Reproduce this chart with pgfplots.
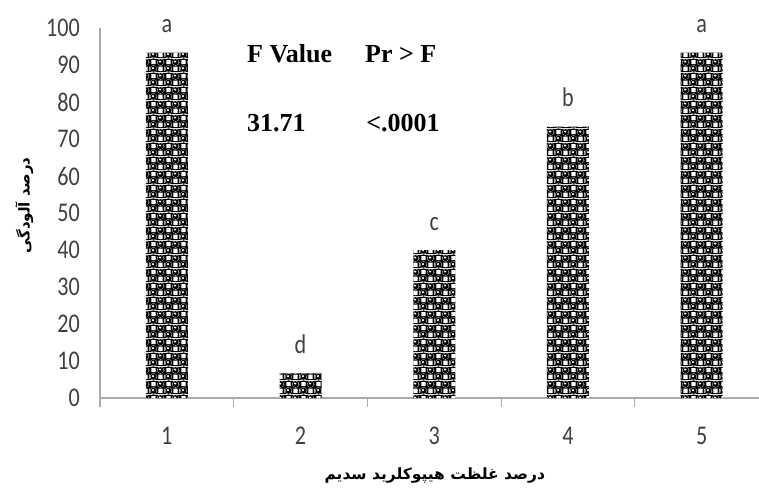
\documentclass[border=0pt]{standalone}
\usepackage{fontspec}
\usepackage{pgfplots}
\pgfplotsset{compat=1.18}
\usetikzlibrary{patterns}
\setmainfont{Liberation Serif}
\newfontfamily\tickfont[FakeStretch=0.82]{Carlito}
\newfontfamily\arabicfont[Script=Arabic]{DejaVu Sans}
\TeXXeTstate=1
\definecolor{axgray}{RGB}{170,170,170}
\newcommand\ballsat[1]{%
  \pgfpathcircle{\pgfqpoint{3.75pt}{3.5pt}}{#1}%
  \pgfpathcircle{\pgfqpoint{18.75pt}{3.5pt}}{#1}%
  \pgfpathcircle{\pgfqpoint{3.75pt}{17.5pt}}{#1}%
  \pgfpathcircle{\pgfqpoint{11.25pt}{10.5pt}}{#1}%
  \pgfpathcircle{\pgfqpoint{-3.75pt}{10.5pt}}{#1}%
  \pgfpathcircle{\pgfqpoint{11.25pt}{-3.5pt}}{#1}%
}
\pgfdeclarepatterninherentlycolored{balls}{\pgfpointorigin}{\pgfqpoint{15pt}{14pt}}{\pgfqpoint{15pt}{14pt}}{%
  \pgfsetfillcolor{black}%
  \pgfpathrectangle{\pgfpointorigin}{\pgfqpoint{15pt}{14pt}}%
  \pgfusepath{fill}%
  \pgfsetfillcolor{white}%
  \ballsat{3.7pt}%
  \pgfusepath{fill}%
  \pgfsetfillcolor{black}%
  \ballsat{3.3pt}%
  \pgfusepath{fill}%
  \pgfsetfillcolor{white}%
  \pgfpathrectangle{\pgfqpoint{9.0pt}{1.3pt}}{\pgfqpoint{4.5pt}{4.4pt}}%
  \pgfpathrectangle{\pgfqpoint{1.5pt}{8.3pt}}{\pgfqpoint{4.5pt}{4.4pt}}%
  \pgfpathcircle{\pgfqpoint{3.2pt}{4.2pt}}{1.3pt}%
  \pgfpathcircle{\pgfqpoint{10.7pt}{11.2pt}}{1.3pt}%
  \pgfusepath{fill}%
}
\begin{document}
\begin{tikzpicture}
\begin{axis}[
  scale only axis,
  width=659pt, height=370pt,
  xmin=0.5, xmax=5.429, ymin=0, ymax=100,
  clip=false,
  axis x line*=bottom, axis y line*=left,
  axis line style={axgray, line width=1.2pt, -},
  xtick={1,2,3,4,5},
  ytick={0,10,...,100},
  major tick length=0pt,
  /pgf/number format/assume math mode=true,
  extra x ticks={0.5,1.5,2.5,3.5,4.5},
  extra x tick labels={},
  extra x tick style={xtick align=outside, major tick length=9pt, tick style={axgray, line width=1.2pt}},
  xticklabel style={font=\tickfont\fontsize{27}{30}\selectfont, anchor=north, inner sep=0pt, yshift=-29pt, text=black!75},
  yticklabel style={font=\tickfont\fontsize{27}{30}\selectfont, anchor=east, inner sep=0pt, xshift=-20pt, text=black!75},
  ybar, bar width=42pt,
  xlabel={\arabicfont\bfseries\beginR درصد غلظت هیپوکلرید سدیم\endR},
  xlabel style={at={(axis description cs:0.508,-0.21)}, anchor=center, font=\fontsize{15.5}{18}\selectfont},
  ylabel={\arabicfont\bfseries\beginR درصد آلودگی\endR},
  ylabel style={at={(axis description cs:-0.115,0.52)}, anchor=center, font=\fontsize{15}{18}\selectfont},
  nodes near coords,
  point meta=explicit symbolic,
  every node near coord/.append style={font=\tickfont\fontsize{27}{30}\selectfont, anchor=base, yshift=20pt, inner sep=0pt, text=black!75},
]
\addplot[draw=none, pattern=balls] table[meta=lab] {
x y lab
1 93.33 a
2 6.67 d
3 40.00 c
4 73.33 b
5 93.33 a
};
\node[anchor=base west, inner sep=0pt, font=\bfseries\fontsize{26}{30}\selectfont] at (axis cs:1.599,90.8) {F Value};
\node[anchor=base west, inner sep=0pt, font=\bfseries\fontsize{26}{30}\selectfont] at (axis cs:2.482,90.8) {Pr > F};
\node[anchor=base west, inner sep=0pt, font=\bfseries\fontsize{26}{30}\selectfont] at (axis cs:1.599,71.9) {31.71};
\node[anchor=base west, inner sep=0pt, font=\bfseries\fontsize{26}{30}\selectfont] at (axis cs:2.490,71.9) {<.0001};
\end{axis}
\pgfresetboundingbox
\path (-100pt,-93pt) rectangle (659pt,398pt);
\end{tikzpicture}
\end{document}
